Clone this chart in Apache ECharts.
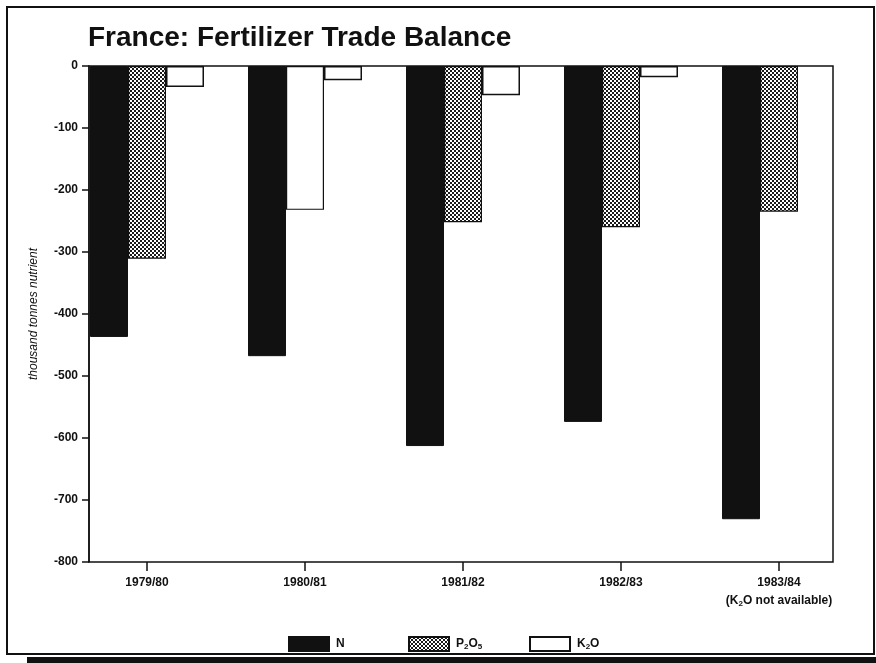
<!DOCTYPE html>
<html>
<head>
<meta charset="utf-8">
<title>France: Fertilizer Trade Balance</title>
<script src="https://cdn.jsdelivr.net/npm/echarts@6/dist/echarts.min.js"></script>
<style>
    html, body {margin: 0; padding: 0; background: #fff;}
    #chart {width: 876px; height: 663px;}
</style>
</head>
<body>
<div id="chart"></div>
<script>
// data (thousand tonnes nutrient)
const categories = ['1979/80', '1980/81', '1981/82', '1982/83', '1983/84'];
const nValues = [-437, -468, -613, -574, -731];
const p2o5Values = [-311, -232, -252, -260, -235];
const k2oValues = [-34, -23, -47, -18, null];
const yMin = -800;
const yMax = 0;
const yStep = 100;

// dotted fill for P2O5
function dotPattern() {
    let c = document.createElement('canvas');
    c.width = 4;
    c.height = 4;
    let ctx = c.getContext('2d');
    ctx.fillStyle = '#fff';
    ctx.fillRect(0, 0, 4, 4);
    ctx.fillStyle = '#1a1a1a';
    ctx.fillRect(0, 0, 2, 2);
    ctx.fillRect(2, 2, 2, 2);
    return c;
}

const ink = '#111';
const font = '"Liberation Sans", Arial, sans-serif';
const pattern = {image: dotPattern(), repeat: 'repeat'};

const sub = {
    b: {fontFamily: font, fontWeight: 'bold', fontSize: 12, color: ink},
    s: {fontFamily: font, fontWeight: 'bold', fontSize: 8, color: ink, padding: [6, 0, 0, 0]}
};

function labelFor(name) {
    if (name === 'P2O5') return '{b|P}{s|2}{b|O}{s|5}';
    if (name === 'K2O') return '{b|K}{s|2}{b|O}';
    return '{b|' + name + '}';
}

function legendAt(name, left) {
    return {
        data: [name],
        left: left,
        top: 631,
        itemWidth: 40,
        itemHeight: 14,
        icon: 'rect',
        selectedMode: false,
        formatter: labelFor,
        textStyle: {rich: sub, padding: [0, 0, 0, 2]}
    };
}

let chart = echarts.init(document.getElementById('chart'));

chart.setOption({
    animation: false,
    backgroundColor: '#fff',
    title: {
        text: 'France: Fertilizer Trade Balance',
        left: 83,
        top: 19,
        textStyle: {fontFamily: font, fontWeight: 'bold', fontSize: 28, color: ink}
    },
    legend: [
        legendAt('N', 283),
        legendAt('P2O5', 403),
        legendAt('K2O', 524)
    ],
    grid: [
        // bars: bands of 158px so the groups sit under the ticks
        {left: 68, right: 18, top: 66, bottom: 101},
        // plot frame and y axis
        {left: 89, right: 43, top: 66, bottom: 101, show: true, borderColor: ink, borderWidth: 1.5, backgroundColor: 'transparent'}
    ],
    xAxis: [
        {
            gridIndex: 0,
            type: 'category',
            data: categories,
            axisLine: {show: true, onZero: false, lineStyle: {opacity: 0}},
            axisTick: {show: true, interval: 0, alignWithLabel: true, length: 9, lineStyle: {color: ink, width: 1.5, opacity: 1}},
            axisLabel: {
                interval: 0,
                margin: 12,
                formatter: function (v) {
                    if (v === '1983/84') return '{b|' + v + '}\n{b|(K}{s|2}{b|O not available)}';
                    return '{b|' + v + '}';
                },
                rich: {
                    b: {fontFamily: font, fontWeight: 'bold', fontSize: 12, color: ink, lineHeight: 18},
                    s: {fontFamily: font, fontWeight: 'bold', fontSize: 8, color: ink, lineHeight: 18, padding: [6, 0, 0, 0]}
                }
            }
        },
        {gridIndex: 1, type: 'value', show: false}
    ],
    yAxis: [
        {gridIndex: 0, type: 'value', min: yMin, max: yMax, interval: yStep, show: false},
        {
            gridIndex: 1,
            type: 'value',
            min: yMin,
            max: yMax,
            interval: yStep,
            name: 'thousand tonnes nutrient',
            nameLocation: 'middle',
            nameGap: 49,
            nameTextStyle: {fontFamily: font, fontStyle: 'italic', fontSize: 12, color: ink},
            axisLine: {show: true, lineStyle: {color: ink, width: 1.5}},
            axisTick: {show: true, length: 7, lineStyle: {color: ink, width: 1.5}},
            axisLabel: {fontFamily: font, fontWeight: 'bold', fontSize: 12, color: ink, margin: 11},
            splitLine: {show: false}
        }
    ],
    series: [
        {
            name: 'N',
            type: 'bar',
            xAxisIndex: 0,
            yAxisIndex: 0,
            barWidth: 38,
            barGap: '0%',
            data: nValues,
            itemStyle: {color: ink, borderColor: ink, borderWidth: 1}
        },
        {
            name: 'P2O5',
            type: 'bar',
            xAxisIndex: 0,
            yAxisIndex: 0,
            barWidth: 38,
            barGap: '0%',
            // the 1980/81 bar is printed without its dot screen
            data: p2o5Values.map(function (v, i) {
                if (i === 1) return {value: v, itemStyle: {color: '#fff'}};
                return v;
            }),
            itemStyle: {color: pattern, borderColor: ink, borderWidth: 1.2}
        },
        {
            name: 'K2O',
            type: 'bar',
            xAxisIndex: 0,
            yAxisIndex: 0,
            barWidth: 38,
            barGap: '0%',
            data: k2oValues,
            itemStyle: {color: '#fff', borderColor: ink, borderWidth: 1.5}
        }
    ],
    // edges of the scanned page
    graphic: [
        {type: 'rect', shape: {x: 7, y: 7, width: 867, height: 647}, style: {fill: 'none', stroke: ink, lineWidth: 2}, silent: true},
        {type: 'rect', shape: {x: 27, y: 657, width: 849, height: 6}, style: {fill: ink}, silent: true}
    ]
});
</script>
</body>
</html>
